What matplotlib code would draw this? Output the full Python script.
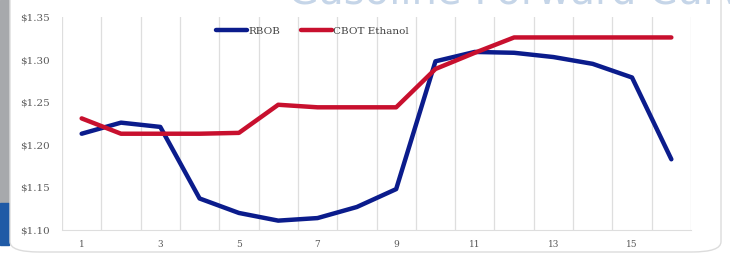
import matplotlib.pyplot as plt
from matplotlib.patches import FancyBboxPatch, Rectangle

# Forward curve values
months = list(range(1, 17))
rbob = [1.213, 1.226, 1.221, 1.137, 1.120, 1.111, 1.114, 1.127,
        1.148, 1.298, 1.309, 1.308, 1.303, 1.295, 1.279, 1.183]
ethanol = [1.231, 1.213, 1.213, 1.213, 1.214, 1.247, 1.244, 1.244,
           1.244, 1.289, 1.308, 1.326, 1.326, 1.326, 1.326, 1.326]
yticks = [1.10, 1.15, 1.20, 1.25, 1.30, 1.35]
xticks = [1, 3, 5, 7, 9, 11, 13, 15]

W, H = 730, 257
fig = plt.figure(figsize=(W / 100, H / 100), dpi=100)
fig.patch.set_facecolor('white')

# slide decoration: grey / blue strip on the left, rounded white panel
fig.patches.append(Rectangle((0, 1 - 203 / H), 9 / W, 203 / H, transform=fig.transFigure,
                             color='#a7a9ac', zorder=0))
fig.patches.append(Rectangle((0, 1 - 245 / H), 9 / W, 42 / H, transform=fig.transFigure,
                             color='#1f5aa6', zorder=0))
fig.patches.append(FancyBboxPatch((10 / W, 1 - 252 / H), 711 / W, 300 / H,
                                  boxstyle='round,pad=0,rounding_size=0.04',
                                  transform=fig.transFigure, facecolor='white',
                                  edgecolor='#dcdcdc', linewidth=1, zorder=0.5))

# title of the slide, mostly cut off at the top (as in the screenshot)
fig.text(288 / W, 1 - 3 / H, 'Gasoline Forward Curve', fontsize=29, color='#c5d5e8',
         ha='left', va='baseline', family='DejaVu Sans')

ax = fig.add_axes([62 / W, 1 - 230 / H, 629 / W, 213 / H])
ax.set_zorder(2)
ax.set_facecolor('none')
ax.set_xlim(0.5, 16.5)
ax.set_ylim(1.10, 1.35)

for g in range(17):
    ax.axvline(g + 0.5, color='#dedede', linewidth=0.9, zorder=1)

ax.plot(months, rbob, color='#0b1c8c', linewidth=3.2, label='RBOB', zorder=3,
        solid_capstyle='round')
ax.plot(months, ethanol, color='#c8102e', linewidth=3.2, label='CBOT Ethanol', zorder=3,
        solid_capstyle='round')

ax.set_xticks(xticks)
ax.set_xticklabels([str(x) for x in xticks], family='DejaVu Serif', fontsize=6.5, color='#595959')
ax.set_yticks(yticks)
ax.set_yticklabels(['$%.2f' % v for v in yticks], family='DejaVu Serif', fontsize=7.5,
                   color='#595959')
ax.tick_params(length=0)
ax.tick_params(axis='x', pad=7)
ax.tick_params(axis='y', pad=9)
for s in ['top', 'right', 'left']:
    ax.spines[s].set_visible(False)
ax.spines['bottom'].set_color('#dedede')

leg = fig.legend(*ax.get_legend_handles_labels(), loc='center left',
                 bbox_to_anchor=(216 / W, 1 - 31 / H), ncol=2, frameon=False,
                 prop={'family': 'DejaVu Serif', 'size': 7.5}, handlelength=3.0,
                 handletextpad=0.1, columnspacing=2.0, borderpad=0, borderaxespad=0)
leg.set_zorder(4)
for t in leg.get_texts():
    t.set_color('#404040')

fig.savefig('out.png', dpi=100)
